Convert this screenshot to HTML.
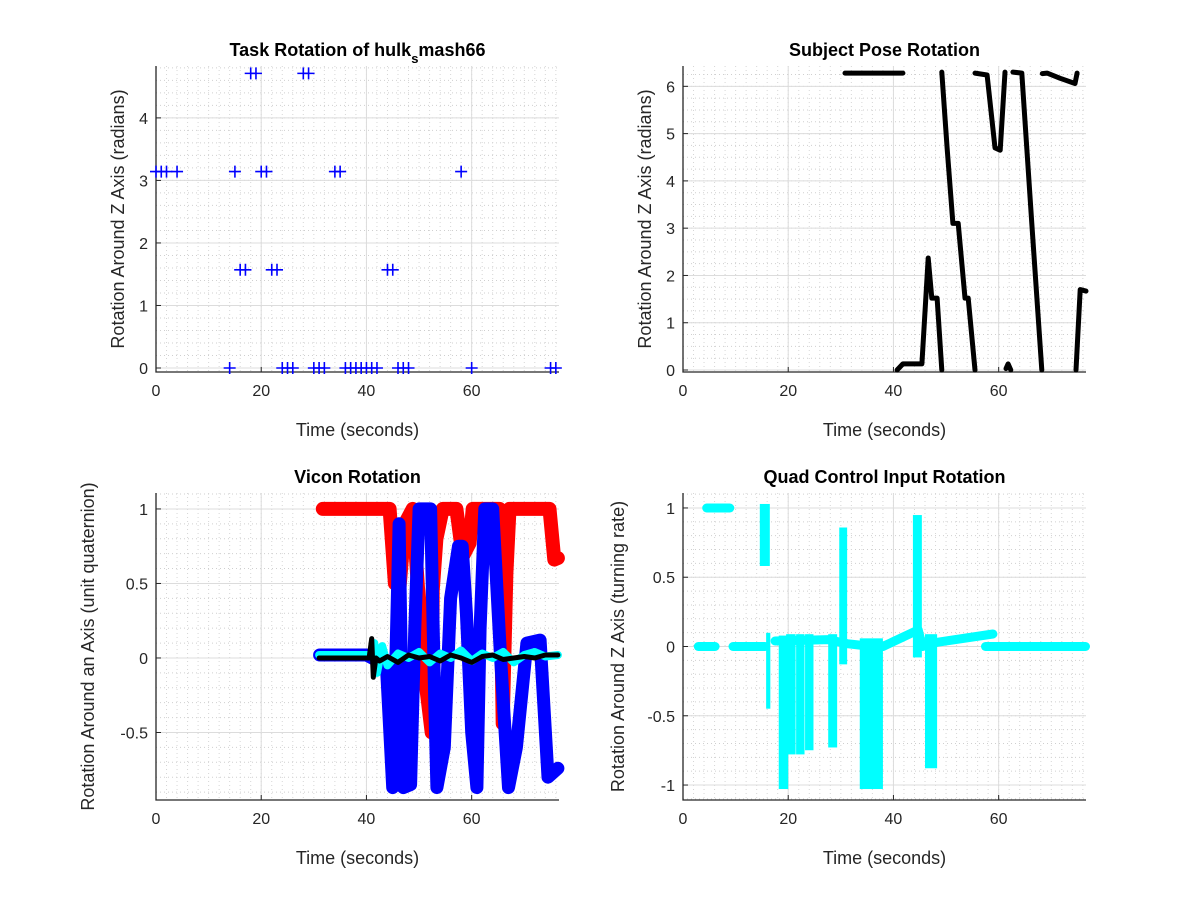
<!DOCTYPE html>
<html><head><meta charset="utf-8"><style>
body{margin:0;background:#fff;}
svg{display:block;font-family:"Liberation Sans",Arial,sans-serif;}
</style></head><body>
<svg id="fig" width="1200" height="900" viewBox="0 0 1200 900" xmlns="http://www.w3.org/2000/svg">
<rect width="1200" height="900" fill="#fff"/>
</svg>
<script>
const taskTimes = [18,19,28,29, 0,1,2,4,15,20,21,34,35,58, 16,17,22,23,44,45, 14,24,25,26,30,31,32,36,37,38,39,40,41,42,46,47,48,60,75,76];
const taskValues = [4.712,4.712,4.712,4.712, 3.1416,3.1416,3.1416,3.1416,3.1416,3.1416,3.1416,3.1416,3.1416,3.1416, 1.5708,1.5708,1.5708,1.5708,1.5708,1.5708, 0,0,0,0,0,0,0,0,0,0,0,0,0,0,0,0,0,0,0,0];
const poseSegTimes = [
 [30.8,41.8],
 [40.7,41.8,45.4,46.6,47.3,48.3,49.2],
 [49.2,50.2,51.3,52.3,53.6,54.2,55.5],
 [55.5,57.8,59.3,60.3,61.2],
 [61.4,61.8,62.3],
 [62.7,64.4,66.3,68.2],
 [68.3,69.2,71.7,74.5,74.9],
 [74.7,75.5,76.6]];
const poseSegValues = [
 [6.28,6.28],
 [0.0,0.13,0.13,2.37,1.52,1.52,0.0],
 [6.3,4.7,3.1,3.1,1.52,1.52,0.0],
 [6.28,6.24,4.7,4.65,6.3],
 [0.03,0.13,0.0],
 [6.3,6.28,3.1,0.0],
 [6.27,6.28,6.17,6.06,6.28],
 [0.0,1.7,1.67]];
const redTimes = [31.7,44.4,45.4,46.3,47.3,48.8,50.7,52.4,52.6,53.3,54.5,57.1,58.3,59.6,60.2,65.3,65.9,66.6,67.2,74.8,75.7,76.4];
const redValues = [1.0,1.0,0.5,0.48,0.9,1.0,0.0,-0.5,0.45,0.8,1.0,1.0,0.68,0.77,1.0,1.0,-0.44,0.57,1.0,1.0,0.66,0.67];
const blueTimes = [31.1,40,43.8,45.0,45.6,46.2,47.0,48.4,49.2,50.0,52.2,53.0,53.4,54.8,56.0,57.5,58.2,59.0,60.0,61.0,61.6,62.5,64.0,65.5,67.0,68.5,70.5,73.0,74.5,76.4];
const blueValues = [0.02,0.02,-0.05,-0.87,0.0,0.9,-0.87,-0.85,0.2,1.0,1.0,-0.3,-0.87,-0.6,0.4,0.75,0.75,0.3,-0.5,-0.87,0.2,1.0,1.0,0.0,-0.87,-0.6,0.1,0.12,-0.8,-0.74];
const cyanTimes = [31,41,41.5,42,43,44,46,48,50,52,54,56,58,60,62,64,66,68,70,72,74,76.4];
const cyanValues = [0.02,0.02,0.1,-0.1,0.08,-0.05,0.03,0,0.04,-0.03,0.03,0,0.05,-0.02,0.03,0.0,0.04,-0.03,0.02,0.04,0.01,0.02];
const blackTimes = [31,40.5,41,41.3,41.8,42.5,44,46,48,50,52,54,56,58,60,62,64,66,68,70,72,74,76.4];
const blackValues = [0.0,0.0,0.13,-0.13,0.0,-0.02,0.01,-0.03,0.02,0.0,0.01,-0.02,0.02,0.0,-0.03,0.01,0.02,-0.01,0.0,0.01,0.0,0.02,0.02];
const quadLineTimes = [[2.9,6.1],[4.5,8.9],[9.5,15.6],[17.5,27.6,31.2,33.6,38,44.7,45.5,48.3,58.9],[57.5,76.5]];
const quadLineValues = [[0,0],[1,1],[0,0],[0.04,0.05,0.02,0.01,0,0.12,0.0,0.03,0.09],[0,0]];
const quadBarStart = [14.6,15.8,18.2,19.6,21.5,23.2,27.6,29.7,33.6,43.7,46.0];
const quadBarEnd   = [16.5,16.6,20.0,21.4,23.1,24.8,29.3,31.2,38.0,45.4,48.3];
const quadBarTop   = [1.0,0.07,0.05,0.06,0.06,0.06,0.06,0.83,0.03,0.92,0.06];
const quadBarBottom= [0.61,-0.42,-1.0,-0.75,-0.75,-0.72,-0.7,-0.1,-1.0,-0.05,-0.85];
const xTicks = [0,20,40,60];
const p1YTicks = [0,1,2,3,4];
const p2YTicks = [0,1,2,3,4,5,6];
const p3YTicks = [-0.5,0,0.5,1];
const p3YTickLabels = ['-0.5','0','0.5','1'];
const p4YTicks = [-1,-0.5,0,0.5,1];
const p4YTickLabels = ['-1','-0.5','0','0.5','1'];

const NS='http://www.w3.org/2000/svg';
const svg=document.getElementById('fig');
function mk(tag,attrs,parent){const e=document.createElementNS(NS,tag);for(const k in attrs)e.setAttribute(k,attrs[k]);(parent||svg).appendChild(e);return e;}

function panel(name,x0,x1,yT,yB,xmax,ymin,ymax,yt,ytl,yminor,title,ylabel,ylOff){
  const g=mk('g',{});
  
  
  const sx=v=>x0+(v/xmax)*(x1-x0);
  const sy=v=>yB-(v-ymin)/(ymax-ymin)*(yB-yT);
  for(let v=Math.ceil(ymin/yminor)*yminor; v<=ymax; v+=yminor){
    const l=mk('line',{x1:x0,x2:x1,y1:sy(v),y2:sy(v),stroke:'#cfcfcf','stroke-width':1,'stroke-dasharray':'1,3'},g);
    
    
  }
  for(let v=2; v<xmax; v+=2){
    const l=mk('line',{x1:sx(v),x2:sx(v),y1:yT,y2:yB,stroke:'#d6d6d6','stroke-width':1,'stroke-dasharray':'1,3'},g);
    
    
  }
  yt.forEach((v,i)=>{
    const l=mk('line',{x1:x0,x2:x1,y1:sy(v),y2:sy(v),stroke:'#dcdcdc','stroke-width':1},g);
    
    
    mk('line',{x1:x0,x2:x0+5,y1:sy(v),y2:sy(v),stroke:'#262626','stroke-width':1},g);
    const t=mk('text',{x:x0-8,y:sy(v)+6,'text-anchor':'end','font-size':16,fill:'#262626'},g);
    t.textContent=ytl[i];
    
    
  });
  xTicks.forEach(v=>{
    const l=mk('line',{x1:sx(v),x2:sx(v),y1:yT,y2:yB,stroke:'#dcdcdc','stroke-width':1},g);
    
    
    mk('line',{x1:sx(v),x2:sx(v),y1:yB,y2:yB-5,stroke:'#262626','stroke-width':1},g);
    const t=mk('text',{x:sx(v),y:yB+24,'text-anchor':'middle','font-size':16,fill:'#262626'},g);
    t.textContent=String(v);
    
    
  });
  const ax=mk('path',{d:`M${x0},${yT}V${yB}H${x1}`,fill:'none',stroke:'#262626','stroke-width':1.3},g);
  
  
  const tt=mk('text',{x:(x0+x1)/2,y:yT-10,'text-anchor':'middle','font-size':18,'font-weight':'bold',fill:'#000'},g);
  tt.innerHTML=title;
  
  
  const xl=mk('text',{x:(x0+x1)/2,y:yB+64,'text-anchor':'middle','font-size':18,fill:'#262626'},g);
  xl.textContent='Time (seconds)';
  
  
  const yl=mk('text',{x:0,y:0,'text-anchor':'middle','font-size':18,fill:'#262626',transform:`translate(${x0-ylOff},${(yT+yB)/2}) rotate(-90)`},g);
  yl.textContent=ylabel;
  
  
  const dg=mk('g',{},g);
  
  
  return {sx,sy,g:dg};
}
function poly(p,ts,vs,color,w,name){
  const pts=ts.map((t,i)=>p.sx(t).toFixed(1)+','+p.sy(vs[i]).toFixed(1)).join(' ');
  const e=mk('polyline',{points:pts,fill:'none',stroke:color,'stroke-width':w,'stroke-linejoin':'round','stroke-linecap':'round'},p.g);
  
  
}

const p1=panel('task-rotation-chart',156,559,66,372,76.6,-0.064,4.83,p1YTicks,p1YTicks.map(String),0.2,'Task Rotation of hulk<tspan font-size="13" dy="7">s</tspan><tspan dy="-7">mash66</tspan>','Rotation Around Z Axis (radians)',32);
taskTimes.forEach((t,i)=>{
  const x=p1.sx(t),y=p1.sy(taskValues[i]);
  const e=mk('path',{d:`M${x-6},${y}H${x+6}M${x},${y-6}V${y+6}`,stroke:'#0000ff','stroke-width':1.6,fill:'none'},p1.g);
  
  
});
const p2=panel('subject-pose-chart',683,1086,66,372,76.6,-0.042,6.43,p2YTicks,p2YTicks.map(String),0.25,'Subject Pose Rotation','Rotation Around Z Axis (radians)',32);
poseSegTimes.forEach((ts,i)=>poly(p2,ts,poseSegValues[i],'#000',5,'pose-line'));
const p3=panel('vicon-rotation-chart',156,559,493,800,76.6,-0.953,1.107,p3YTicks,p3YTickLabels,0.1,'Vicon Rotation','Rotation Around an Axis (unit quaternion)',62);
poly(p3,redTimes,redValues,'#ff0000',14,'vicon-red-line');
poly(p3,blueTimes,blueValues,'#0000ff',13,'vicon-blue-line');
poly(p3,cyanTimes,cyanValues,'#00ffff',8,'vicon-cyan-line');
poly(p3,blackTimes,blackValues,'#000',5,'vicon-black-line');
const p4=panel('quad-control-chart',683,1086,493,800,76.6,-1.108,1.108,p4YTicks,p4YTickLabels,0.1,'Quad Control Input Rotation','Rotation Around Z Axis (turning rate)',59);
quadLineTimes.forEach((ts,i)=>poly(p4,ts,quadLineValues[i],'#00ffff',9,'quad-line'));
quadBarStart.forEach((s,i)=>{
  const x=p4.sx(s),w=p4.sx(quadBarEnd[i])-x,y=p4.sy(quadBarTop[i]),h=p4.sy(quadBarBottom[i])-y;
  const r=mk('rect',{x:x,y:y-4,width:w,height:h+8,fill:'#00ffff'},p4.g);
  
  
});
</script>
</body></html>
